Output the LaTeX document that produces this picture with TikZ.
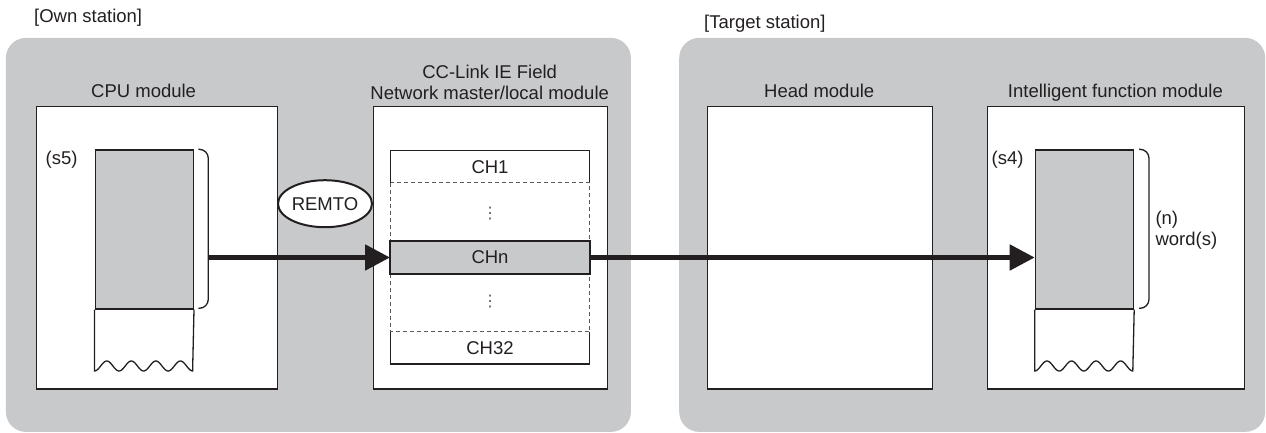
\documentclass[tikz,border=0pt]{standalone}
\usepackage{fontspec}
\setmainfont{Liberation Sans}
\newfontfamily\dejavu{DejaVu Sans}
\usetikzlibrary{shapes.geometric,arrows.meta}
\definecolor{panel}{HTML}{C8C9CB}
\definecolor{ink}{HTML}{231F20}
\definecolor{dashgray}{HTML}{5A5A5A}
\begin{document}
\begin{tikzpicture}[x=1pt,y=-1pt,
  every node/.style={font=\fontsize{18.5}{22}\selectfont, text=ink},
  station/.style={fill=panel, draw=none, rounded corners=20pt, anchor=north west, inner sep=0pt},
  module/.style={draw=ink, fill=white, line width=1.3pt, anchor=north west, inner sep=0pt, minimum height=282.6pt},
  memory/.style={draw=ink, fill=panel, line width=1.3pt, anchor=north west, inner sep=0pt, minimum width=98.2pt, minimum height=159pt},
  thinline/.style={draw=ink, line width=1.3pt},
  chan/.style={inner sep=0pt, minimum width=198.6pt, minimum height=31.6pt},
  flow/.style={draw=ink, line width=5pt, -{Triangle[length=25pt,width=25pt]}},
  bracket/.style={draw=ink, line width=1.3pt, rounded corners=9pt},
  wave/.style={draw=ink, line width=1.3pt},
  ellip/.style={inner sep=0pt, text=dashgray, font=\dejavu\fontsize{16}{16}\selectfont}
]
\useasboundingbox (0,0) rectangle (1266,433);

% stations
\node[station, minimum width=625pt, minimum height=394pt] (own) at (5.7,37.7) {};
\node[station, minimum width=586pt, minimum height=394pt] (target) at (679,37.7) {};
\node[anchor=west] (ownlbl) at (30.6,17.5) {[Own station]};
\node[anchor=west] (tgtlbl) at (700.7,23.5) {[Target station]};

% modules
\node[module, minimum width=240.7pt] (cpu) at (36,105.7) {};
\node[module, minimum width=234pt] (net) at (372.7,105.7) {};
\node[module, minimum width=225.5pt] (head) at (706.5,105.7) {};
\node[module, minimum width=257.2pt] (intel) at (986.8,105.7) {};

\node[anchor=base] (cpulbl) at (143.6,97.3) {CPU module};
\node[anchor=base] (netlbl1) at (489.7,78.3) {CC-Link IE Field};
\node[anchor=base] (netlbl2) at (489.7,100) {Network master/local module};
\node[anchor=base] (headlbl) at (819.2,97.3) {Head module};
\node[anchor=base] (intellbl) at (1115.4,97.3) {Intelligent function module};

% CPU memory
\node[memory] (s5box) at (94.5,149.3) {};
\draw[wave] (s5box.south west) -- (94.5,371)
  -- plot[domain=0:1,samples=97,variable=\t] ({94.5+98.2*\t},{366+5*cos(1440*\t)})
  -- (s5box.south east);
\node[anchor=east] (s5lbl) at (81,159.3) {(s5)};
\draw[bracket] (198.3,149.3) -- (208.3,149.3) -- (208.3,308.3) -- (198.3,308.3);
\coordinate (a1) at (209,257.5);

% Intelligent function module memory
\node[memory] (s4box) at (1034.7,149.3) {};
\draw[wave] (s4box.south west) -- (1034.7,371)
  -- plot[domain=0:1,samples=97,variable=\t] ({1034.7+98.2*\t},{366+5*cos(1440*\t)})
  -- (s4box.south east);
\node[anchor=east] (s4lbl) at (1027,159.3) {(s4)};
\draw[bracket] (1139,149.3) -- (1149,149.3) -- (1149,308.3) -- (1139,308.3);
\node[anchor=west] (nlbl) at (1152,220) {(n)};
\node[anchor=west] (wlbl) at (1152,240.5) {word(s)};

% channels
\node[chan, fill=white] (ch1) at (490,166.85) {CH1};
\node[chan, fill=panel, draw=ink, line width=1.3pt] (chn) at (490,257.5) {CHn};
\node[chan, fill=white] (ch32) at (490,347.85) {CH32};
\draw[thinline] (ch1.south west) -- (ch1.north west) -- (ch1.north east) -- (ch1.south east);
\draw[thinline] (ch32.north west) -- (ch32.south west) -- (ch32.south east) -- (ch32.north east);
\draw[draw=dashgray, line width=1pt, dash pattern=on 4pt off 3pt] (ch1.south west) rectangle (ch32.north east);
\draw[thinline] (chn.north west) rectangle (chn.south east);
\node[ellip] (dots1) at (490,214) {⋮};
\node[ellip] (dots2) at (490,302) {⋮};

% REMTO
\node[ellipse, draw=ink, line width=2pt, fill=white, minimum width=81pt, minimum height=47pt, inner sep=0pt] (remto) at (325,203.7) {REMTO};

% arrows
\draw[flow] (a1) -- (chn.west);
\draw[flow] (chn.east) -- (chn.east -| s4box.west);
\end{tikzpicture}
\end{document}
